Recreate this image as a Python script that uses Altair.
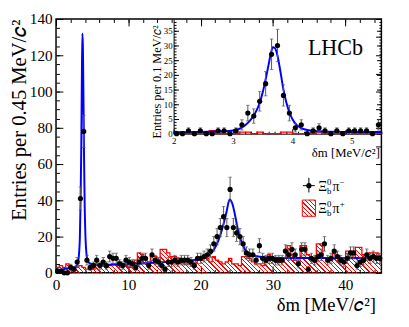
import altair as alt
import pandas as pd
import numpy as np

# ---------------- data ----------------
BIN_W = 0.45
main_counts = [1, 1, 0, 0, 3, 2, 6, 41, 78, 7,
               3, 4, 7, 4, 6, 4, 9, 8, 8, 5,
               4, 7, 6, 5, 3, 6, 8, 8, 4, 10,
               7, 6, 4, 2, 6, 6, 7, 6, 7, 7,
               7, 6, 4, 8, 8, 9, 10, 12, 16, 20,
               25, 31, 25, 46, 25, 22, 20, 16, 11, 10,
               10, 7, 15, 8, 7, 8, 8, 7, 7, 7,
               12, 10, 13, 10, 5, 13, 13, 2, 8, 7,
               9, 10, 16, 7, 8, 12, 9, 7, 6, 8,
               11, 11, 4, 6, 7, 10, 8, 9, 8, 8]
main_bkg = [3, 4, 3, 5, 3, 2, 3, 4, 3, 2,
            3, 2, 4, 5, 4, 3, 4, 5, 5, 6,
            5, 4, 3, 5, 7, 11, 10, 8, 6, 9,
            9, 7, 13, 13, 11, 9, 9, 8, 6, 5,
            5, 6, 5, 7, 7, 8, 8, 6, 9, 7,
            6, 5, 6, 8, 5, 5, 4, 9, 9, 8,
            6, 5, 5, 4, 6, 10, 7, 7, 6, 7,
            8, 15, 10, 7, 6, 15, 15, 10, 8, 6,
            16, 16, 8, 8, 7, 11, 8, 6, 8, 12,
            12, 8, 14, 14, 10, 8, 11, 11, 11, 9]
fit_x = [0.2, 1.0, 1.8, 2.4, 2.8, 3.0, 3.15, 3.3, 3.4, 3.5, 3.58, 3.65, 3.72, 3.8,
         3.88, 3.97, 4.07, 4.2, 4.4, 4.7, 5.2, 6.5, 8.5, 10.5, 12.5, 14.5, 16.5,
         18.5, 19.8, 20.6, 21.2, 21.7, 22.2, 22.7, 23.2, 23.6, 24.0, 24.4, 24.8,
         25.2, 25.7, 26.2, 26.8, 27.5, 28.5, 30, 33, 37, 41, 45]
fit_y = [1.5, 2.0, 2.6, 3.1, 3.8, 5, 9, 20, 40, 72, 110, 132, 124, 95,
         62, 36, 20, 11, 6.5, 5.2, 4.7, 4.5, 4.6, 4.9, 5.3, 5.8, 6.3,
         6.9, 7.5, 8.4, 9.8, 12, 15.5, 20.5, 27.5, 34, 40.5, 38, 31,
         23, 16.5, 12.5, 10.5, 9.4, 8.7, 8.4, 8.2, 8.2, 8.2, 8.3]

INSET_BIN_W = 0.1
inset_start = 2.0
inset_counts = [0, 0, 1, 0, 1, 0, 0, 1, 1, 0, 1, 3, 7, 6, 11, 17, 27, 30, 13, 7,
                2, 3, 0, 1, 2, 1, 0, 1, 0, 1, 1, 1, 1, 0, 3]
inset_bkg = [0, 0, 0, 0, 0, 0, 1, 0, 0, 0, 0, 0.5, 0.5, 0, 0.5, 0, 0, 0, 0.5, 0.5,
             0, 0, 0, 0, 0.5, 0, 0, 0, 0, 1, 0, 0, 0, 0, 0]
inset_fit_x = [2.0, 2.4, 2.8, 3.0, 3.1, 3.2, 3.3, 3.4, 3.45, 3.5, 3.55, 3.6, 3.64,
               3.67, 3.71, 3.75, 3.8, 3.85, 3.9, 3.95, 4.0, 4.07, 4.15, 4.3, 4.6, 5.0, 5.5]
inset_fit_y = [0.5, 0.55, 0.8, 1.1, 1.6, 2.8, 4.8, 8.0, 10.5, 14, 18.5, 23.5, 27.5,
               29.4, 29, 26.5, 21, 15, 10.5, 7.2, 5.0, 3.0, 1.9, 1.1, 0.7, 0.6, 0.6]

# axis tick positions / labels
main_x_labels = [0, 10, 20, 30, 40]
main_x_minor = list(range(0, 46, 2))
main_y_labels = [0, 20, 40, 60, 80, 100, 120, 140]
main_y_minor = list(range(0, 141, 5))
main_y_right = list(range(0, 141, 10))
inset_x_labels = [2, 3, 4, 5]
inset_x_minor = [round(2 + 0.1 * i, 1) for i in range(36)]
inset_y_labels = [0, 5, 10, 15, 20, 25, 30, 35]
inset_y_minor = list(range(0, 39))

# ---------------- layout / style ----------------
W, H = 332, 259
X_MAX, Y_MAX = 45, 140
IN_X0, IN_Y1 = 120, 117          # inset left edge / bottom edge inside the view
IN_YMAX = 39
FONT = "Liberation Serif"
ERR_COL = "#555555"
CLEAR = "rgba(255,255,255,0)"


def hatch(wb, hb, period=4.5, lw=1.3, color="red"):
    a = (wb + hb) / wb
    d = (wb + hb) * (1 + (hb / wb) ** 2)
    stops = []
    k = 0
    while True:
        t0 = (k * period + 0.6) / d
        t1 = (k * period + 0.6 + lw) / d
        if t1 >= 1:
            break
        stops += [{"offset": t0, "color": CLEAR}, {"offset": t0, "color": color},
                  {"offset": t1, "color": color}, {"offset": t1, "color": CLEAR}]
        k += 1
    return {"gradient": "linear", "x1": 0, "y1": 1, "x2": a, "y2": 1 - a * hb / wb,
            "stops": stops}


def tick_axis(orient, values, size, base=0):
    return alt.Axis(orient=orient, values=values, labels=False, domain=False,
                    ticks=True, tickSize=size, tickWidth=1, tickColor="black",
                    offset=base - size, grid=False, title=None)


# ---------------- tables ----------------
centers = [BIN_W * (i + 0.5) for i in range(len(main_counts))]
main_df = pd.DataFrame({"x": centers, "n": main_counts})
main_df["lo"] = main_df["n"] - np.sqrt(main_df["n"])
main_df["hi"] = main_df["n"] + np.sqrt(main_df["n"])
main_err = main_df[main_df["n"] > 0]
edges = [BIN_W * i for i in range(len(main_bkg))] + [BIN_W * len(main_bkg)]
bkg_df = pd.DataFrame({"x": edges, "v": main_bkg + [main_bkg[-1]]})
fit_df = pd.DataFrame({"x": fit_x, "y": fit_y})

in_centers = [inset_start + INSET_BIN_W * (i + 0.5) for i in range(len(inset_counts))]
in_df = pd.DataFrame({"x": in_centers, "n": inset_counts})
in_df["lo"] = in_df["n"] - np.sqrt(in_df["n"])
in_df["hi"] = in_df["n"] + np.sqrt(in_df["n"])
in_err = in_df[in_df["n"] > 0]
in_edges = [inset_start + INSET_BIN_W * i for i in range(len(inset_bkg) + 1)]
in_bkg_df = pd.DataFrame({"x": in_edges, "v": inset_bkg + [inset_bkg[-1]]})
in_fit_df = pd.DataFrame({"x": inset_fit_x, "y": inset_fit_y})

one = pd.DataFrame({"a": [1]})

# ---------------- scales ----------------
xs = alt.Scale(domain=[0, X_MAX], nice=False, zero=False)
ys = alt.Scale(domain=[0, Y_MAX], nice=False, zero=False)
xi = alt.Scale(domain=[2, 5.5], range=[IN_X0, W], nice=False, zero=False)
yi = alt.Scale(domain=[0, IN_YMAX], range=[IN_Y1, 0], nice=False, zero=False)

# ---------------- main panel ----------------
x_lab_axis = alt.Axis(orient="bottom", values=main_x_labels, ticks=False, tickSize=0,
                      domain=False, labelFont=FONT, labelFontSize=15.5, labelPadding=5,
                      labelFlush=False, labelOverlap=False, labelColor="black",
                      title="δm [MeV/𝑐²]", titleFont=FONT, titleFontSize=19,
                      titleFontWeight="normal", titleX=326, titleY=38,
                      titleAlign="right", titleBaseline="alphabetic", grid=False)
y_lab_axis = alt.Axis(orient="left", values=main_y_labels, ticks=False, tickSize=0,
                      domain=False, labelFont=FONT, labelFontSize=15.5, labelPadding=4,
                      labelFlush=False, labelOverlap=False, labelColor="black",
                      title="Entries per 0.45 MeV/𝑐²", titleFont=FONT,
                      titleFontSize=21, titleFontWeight="normal", titleX=-37, titleY=0,
                      titleAlign="right", titleAngle=270, titleBaseline="middle",
                      grid=False)

bkg_h = max(main_bkg) / Y_MAX * H
m_area = alt.Chart(bkg_df).mark_area(
    interpolate="step-after", fill=hatch(W, bkg_h), strokeWidth=0
).encode(x=alt.X("x:Q", scale=xs, axis=x_lab_axis),
         y=alt.Y("v:Q", scale=ys, axis=y_lab_axis))
m_line = alt.Chart(bkg_df).mark_line(
    interpolate="step-after", color="red", strokeWidth=1.3
).encode(x=alt.X("x:Q", scale=xs, axis=tick_axis("bottom", main_x_labels, 7)),
         y=alt.Y("v:Q", scale=ys, axis=tick_axis("left", main_y_labels, 7)))
m_fit = alt.Chart(fit_df).mark_line(
    color="#0000ff", strokeWidth=2, interpolate="monotone"
).encode(x=alt.X("x:Q", scale=xs, axis=tick_axis("bottom", main_x_minor, 3.5)),
         y=alt.Y("y:Q", scale=ys, axis=tick_axis("left", main_y_minor, 3.5)))
m_err = alt.Chart(main_err).mark_rule(color=ERR_COL, strokeWidth=1).encode(
    x=alt.X("x:Q", scale=xs, axis=tick_axis("top", main_x_labels, 7)),
    y=alt.Y("lo:Q", scale=ys, axis=tick_axis("right", main_y_right, 6)),
    y2="hi:Q")
m_cap_hi = alt.Chart(main_err).mark_tick(orient="horizontal", size=3.5, thickness=1,
                                         color=ERR_COL).encode(
    x=alt.X("x:Q", scale=xs, axis=tick_axis("top", main_x_minor, 3.5)),
    y=alt.Y("hi:Q", scale=ys, axis=None))
m_cap_lo = alt.Chart(main_err).mark_tick(orient="horizontal", size=3.5, thickness=1,
                                         color=ERR_COL).encode(
    x=alt.X("x:Q", scale=xs, axis=None),
    y=alt.Y("lo:Q", scale=ys, axis=None))
m_pts = alt.Chart(main_df).mark_circle(size=28, color="black", opacity=1).encode(
    x=alt.X("x:Q", scale=xs, axis=None),
    y=alt.Y("n:Q", scale=ys, axis=None))

# ---------------- inset panel ----------------
IN_BOT = -(H - IN_Y1)
xi_lab_axis = alt.Axis(orient="bottom", offset=IN_BOT, values=inset_x_labels,
                       ticks=False, tickSize=0, domain=True, domainColor="black",
                       domainWidth=1, labelFont=FONT, labelFontSize=9, labelPadding=3,
                       labelFlush=False, labelOverlap=False, labelColor="black",
                       title="δm [MeV/𝑐²]", titleFont=FONT, titleFontSize=13,
                       titleFontWeight="normal", titleX=330, titleY=23.5,
                       titleAlign="right", titleBaseline="alphabetic", grid=False)
yi_lab_axis = alt.Axis(orient="left", offset=-IN_X0, values=inset_y_labels,
                       ticks=False, tickSize=0, domain=True, domainColor="black",
                       domainWidth=1, labelFont=FONT, labelFontSize=9, labelPadding=1.5,
                       labelFlush=False, labelOverlap=False, labelColor="black",
                       title="Entries per 0.1 MeV/𝑐²", titleFont=FONT,
                       titleFontSize=12.5, titleFontWeight="normal",
                       titleX=-17, titleY=6, titleAlign="right", titleAngle=270,
                       titleBaseline="middle", grid=False)

i_line = alt.Chart(in_bkg_df).mark_line(
    interpolate="step-after", color="red", strokeWidth=1.3
).encode(x=alt.X("x:Q", scale=xi, axis=xi_lab_axis),
         y=alt.Y("v:Q", scale=yi, axis=yi_lab_axis))
i_fit = alt.Chart(in_fit_df).mark_line(
    color="#0000ff", strokeWidth=2, interpolate="monotone"
).encode(x=alt.X("x:Q", scale=xi, axis=tick_axis("bottom", inset_x_labels, 5, IN_BOT)),
         y=alt.Y("y:Q", scale=yi, axis=tick_axis("left", inset_y_labels, 5, -IN_X0)))
i_err = alt.Chart(in_err).mark_rule(color=ERR_COL, strokeWidth=1).encode(
    x=alt.X("x:Q", scale=xi, axis=tick_axis("bottom", inset_x_minor, 2.5, IN_BOT)),
    y=alt.Y("lo:Q", scale=yi, axis=tick_axis("left", inset_y_minor, 2.5, -IN_X0)),
    y2="hi:Q")
i_cap_hi = alt.Chart(in_err).mark_tick(orient="horizontal", size=3.5, thickness=1,
                                       color=ERR_COL).encode(
    x=alt.X("x:Q", scale=xi, axis=None),
    y=alt.Y("hi:Q", scale=yi, axis=tick_axis("right", inset_y_labels, 5)))
i_cap_lo = alt.Chart(in_err).mark_tick(orient="horizontal", size=3.5, thickness=1,
                                       color=ERR_COL).encode(
    x=alt.X("x:Q", scale=xi, axis=None),
    y=alt.Y("lo:Q", scale=yi, axis=tick_axis("right", inset_y_minor, 2.5)))
i_pts = alt.Chart(in_df).mark_circle(size=28, color="black", opacity=1).encode(
    x=alt.X("x:Q", scale=xi, axis=None),
    y=alt.Y("n:Q", scale=yi, axis=None))


# ---------------- annotations ----------------
def txt(s, x, y, size, align="left"):
    return alt.Chart(one).mark_text(text=s, font=FONT, fontSize=size, align=align,
                                    baseline="alphabetic", color="black").encode(
        x=alt.value(x), y=alt.value(y))


lhcb = txt("LHCb", 257, 37, 22.5)

LX, LY1, LY2 = 258, 170, 194
leg_pt = alt.Chart(one).mark_circle(size=28, color="black", opacity=1).encode(
    x=alt.value(LX), y=alt.value(LY1))
leg_v = alt.Chart(one).mark_rule(color="black", strokeWidth=1).encode(
    x=alt.value(LX), y=alt.value(LY1 - 8), y2=alt.value(LY1 + 7))
leg_h = alt.Chart(one).mark_rule(color="black", strokeWidth=1).encode(
    x=alt.value(LX - 6), x2=alt.value(LX + 6), y=alt.value(LY1))
leg_box = alt.Chart(one).mark_rect(fill=hatch(13.4, 16.6), stroke="red",
                                   strokeWidth=1).encode(
    x=alt.value(251.3), x2=alt.value(264.7), y=alt.value(184.7), y2=alt.value(201.3))

legend_text = []
for yb, sign in ((LY1 + 5, "−"), (LY2 + 3.5, "+")):
    legend_text += [
        txt("Ξ", 267.5, yb, 14),
        txt("0", 276.5, yb - 6, 9),
        txt("b", 276.5, yb + 3.5, 9),
        txt("π", 282, yb, 14),
        txt(sign, 289.5, yb - 6, 9),
    ]

chart = alt.layer(
    m_area, m_line, m_fit, m_err, m_cap_hi, m_cap_lo, m_pts,
    i_line, i_fit, i_err, i_cap_hi, i_cap_lo, i_pts,
    lhcb, leg_box, leg_v, leg_h, leg_pt, *legend_text
).resolve_scale(x="independent", y="independent").properties(
    width=W, height=H,
    autosize=alt.AutoSizeParams(type="none"),
    padding={"left": 49, "top": 8, "right": 20, "bottom": 52},
    background="white",
).configure_view(stroke="black", strokeWidth=1.5).configure_axis(
    labelFont=FONT, titleFont=FONT, labelColor="black", titleColor="black",
    titleFontWeight="normal", grid=False
)

chart.save("out.html", embed_options={"renderer": "svg", "actions": False})
